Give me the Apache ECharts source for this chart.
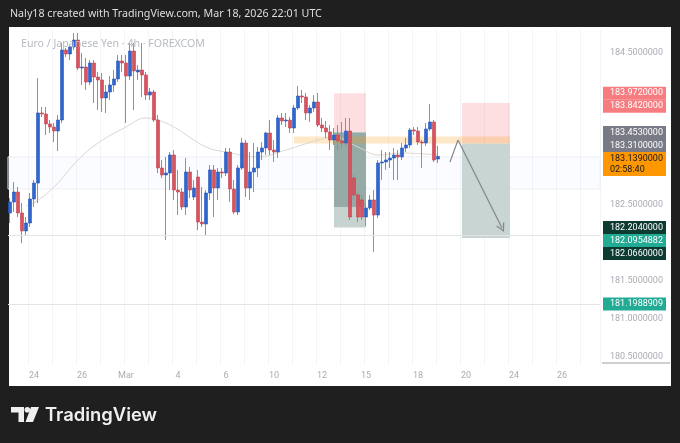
<!DOCTYPE html>
<html><head><meta charset="utf-8">
<script src="https://cdn.jsdelivr.net/npm/echarts@6/dist/echarts.min.js"></script>
<style>
html,body{margin:0;padding:0;background:#1f1f1f;}
#wrap{position:relative;width:680px;height:443px;background:#1f1f1f;overflow:hidden;}
#panel{position:absolute;left:9px;top:27px;width:662px;height:359px;background:#ffffff;}
#chart{position:absolute;left:0;top:0;width:680px;height:443px;}
</style></head><body>
<div id="wrap"><div id="panel"></div><div id="chart"></div></div>
<script>
// ---------- data ----------
const barCount = 148; // 108 candles + empty future slots
const tickIdx  = [6, 18, 29, 42, 54, 66, 78, 89, 102, 114, 126, 138];
const tickText = ['24', '26', 'Mar', '4', '6', '10', '12', '15', '18', '20', '24', '26'];

const openArr = [182.395,182.539,182.671,182.395,182.158,182.263,182.579,182.789,183.711,183.697,
183.566,183.526,183.474,183.618,184.539,184.487,184.579,184.671,184.303,184.316,
184.118,184.368,184.184,184.145,183.908,183.987,184.079,184.158,184.395,184.368,
184.197,184.526,184.250,184.276,184.211,183.947,183.987,183.618,182.987,182.895,
182.921,183.158,182.697,182.671,182.474,182.934,182.605,182.868,182.276,182.250,
182.658,182.961,182.724,182.934,182.921,183.197,182.711,182.408,182.987,183.316,
182.724,182.934,182.987,183.197,183.250,183.447,183.224,183.197,183.645,183.605,
183.618,183.513,183.776,183.934,183.921,183.711,183.776,183.855,183.553,183.513,
183.461,183.355,183.421,183.342,183.316,183.474,182.855,182.632,182.566,182.342,
182.461,182.566,182.368,183.053,183.066,183.092,183.118,183.158,183.132,183.250,
183.290,183.487,183.474,183.329,183.316,183.500,183.592,183.105];

const closeArr = [182.539,182.671,182.395,182.158,182.263,182.579,182.789,183.711,183.697,183.566,
183.526,183.474,183.618,184.539,184.487,184.579,184.671,184.303,184.316,184.118,
184.368,184.184,184.145,183.908,183.987,184.079,184.158,184.395,184.368,184.197,
184.526,184.263,184.276,184.211,183.947,183.987,183.618,182.987,182.895,182.921,
183.158,182.697,182.671,182.474,182.934,182.697,182.724,182.276,182.250,182.658,
182.961,182.724,182.934,182.921,183.197,182.711,182.408,182.987,183.316,182.724,
182.934,182.987,183.197,183.250,183.447,183.224,183.197,183.645,183.605,183.618,
183.513,183.776,183.934,183.921,183.711,183.776,183.855,183.553,183.513,183.461,
183.355,183.421,183.342,183.316,183.474,182.342,182.632,182.342,182.342,182.461,
182.566,182.368,183.053,183.066,183.092,183.118,183.158,183.132,183.250,183.290,
183.487,183.474,183.329,183.316,183.500,183.592,183.092,183.139];

const lowArr = [182.263,182.408,182.342,181.997,182.105,182.211,182.474,182.526,183.658,183.421,
183.447,183.329,183.211,183.579,184.447,184.408,184.539,184.276,184.079,184.013,
184.079,183.842,183.750,183.724,183.711,183.882,183.987,184.118,184.250,183.579,
184.145,183.750,184.145,183.921,183.882,183.882,183.592,182.921,182.855,182.039,
182.697,182.566,182.368,182.434,182.368,182.592,182.566,182.171,182.211,182.105,
182.566,182.342,182.566,182.855,182.882,182.539,182.382,182.368,182.961,182.605,
182.566,182.671,182.868,183.092,183.158,183.158,183.066,183.118,183.553,183.526,
183.447,183.447,183.750,183.842,183.618,183.592,183.724,183.526,183.461,183.382,
183.224,183.290,183.224,183.250,183.263,182.303,182.566,182.276,182.303,182.224,
182.434,181.882,182.329,182.829,182.961,182.987,182.829,182.829,183.092,183.197,
183.250,183.421,183.290,182.987,183.276,183.474,183.066,183.053];

const highArr = [182.592,182.803,182.737,182.526,182.342,182.658,182.829,184.171,183.789,183.789,
183.618,183.579,183.684,184.632,184.566,184.605,184.763,184.763,184.500,184.434,
184.408,184.408,184.250,184.237,184.079,184.197,184.276,184.474,184.474,184.474,
184.632,184.632,184.342,184.632,184.250,184.039,184.013,183.684,183.092,183.132,
183.197,183.224,182.961,182.724,183.118,183.000,182.829,182.961,182.737,182.697,
183.026,183.026,182.987,182.987,183.250,183.250,182.829,183.026,183.382,183.355,
183.197,183.316,183.263,183.329,183.461,183.618,183.355,183.684,183.711,183.711,
183.658,183.816,184.066,184.013,183.974,183.816,183.947,183.974,183.645,183.605,
183.553,183.513,183.553,183.592,183.645,183.645,182.895,182.658,182.632,182.526,
182.632,182.697,183.092,183.224,183.197,183.197,183.250,183.224,183.316,183.382,
183.513,183.526,183.526,183.355,183.579,183.829,183.618,183.276];

// moving average line, read at a few candles
const maIdx = [4, 6, 11, 17, 22, 29, 34, 37, 41, 49, 54, 62, 69, 77, 81, 87, 92, 98, 107];
const maVal = [182.487,182.526,182.737,183.092,183.316,183.526,183.645,183.618,183.526,183.263,
183.197,183.132,183.224,183.355,183.395,183.263,183.158,183.184,183.158];

// drawings
const levelPrices = [182.0954882, 181.1988909];
const rangeBand   = [183.132, 182.711];
const bandIdx     = [71, 125];
const bandPrices  = [183.400, 183.310];
const pos1Idx     = [81, 89];
const pos1Prices  = [183.972, 183.453, 182.474, 182.204]; // stop, entry, reached, target
const pos2Idx     = [113, 125];
const pos2Prices  = [183.842, 183.310, 182.066];           // stop, entry, target
const zigIdx      = [110, 112, 123];
const zigVal      = [183.066, 183.355, 182.197];

// price tags on the right scale
const tagPrices = [183.972, 183.842, 183.453, 183.310, 183.139, 182.204, 182.0954882, 182.066, 181.1988909];
const tagKinds  = ['stop', 'stop', 'entry', 'entry', 'last', 'target', 'level', 'target', 'level'];
const countdown = '02:58:40';

// ---------- chart ----------
const chart = echarts.init(document.getElementById('chart'), null, {renderer: 'canvas'});
const cats = Array.from({length: barCount}, (_, i) => 'k' + i);
const tickMap = {};
tickIdx.forEach((v, i) => { tickMap[v] = tickText[i]; });

const wickData = openArr.map((o, i) => [o, closeArr[i], lowArr[i], highArr[i]]);
const bodyData = openArr.map((o, i) => [o, closeArr[i], Math.min(o, closeArr[i]), Math.max(o, closeArr[i])]);
const maData = maIdx.map((x, i) => [cats[x], maVal[i]]);

const Y_MIN = 180.3947, Y_MAX = 184.8026;
const FONT = 'Roboto, "Noto Sans", sans-serif';
const chevron = 'path://M5,0 L10,9 L8.7,9.7 L5,2.8 L1.3,9.7 L0,9 Z';

const box = (i0, p0, i1, p1, color) => [
  {coord: [cats[i0], p0], itemStyle: {color: color}},
  {coord: [cats[i1], p1]}
];

const option = {
  animation: false,
  backgroundColor: 'transparent',
  title: {
    text: 'Euro / Japanese Yen · 4h · FOREXCOM',
    left: 16, top: 33,
    textStyle: {fontFamily: '"Noto Sans", sans-serif', fontSize: 10.6, fontWeight: 'normal', color: '#b7bac2'}
  },
  grid: {left: 8, right: 80, top: 30, bottom: 78, outerBoundsMode: 'none'},
  xAxis: {
    type: 'category', data: cats, boundaryGap: true,
    axisLine: {show: false}, axisTick: {show: false},
    axisLabel: {
      interval: (i) => tickMap[i] !== undefined,
      formatter: (v, i) => tickMap[i] || '',
      color: '#a9acb4', fontSize: 9, fontFamily: FONT, margin: 6
    },
    splitLine: {show: true, interval: (i) => (i - 5) % 6 === 0, lineStyle: {color: '#f3f4f7', width: 1}}
  },
  yAxis: {
    type: 'value', position: 'right', min: Y_MIN, max: Y_MAX, splitNumber: 9,
    axisLine: {show: false}, axisTick: {show: false}, splitLine: {show: false},
    axisLabel: {showMinLabel: false, showMaxLabel: false, margin: 10, color: '#a9acb4',
      fontSize: 9, fontFamily: FONT, formatter: (v) => v.toFixed(7)}
  },
  series: [
    {
      name: 'drawings', type: 'line', data: [], z: 1, silent: true,
      markArea: {
        silent: true, label: {show: false},
        data: [
          [{yAxis: rangeBand[0], itemStyle: {color: 'rgba(41,98,255,0.018)', borderColor: '#eceff4', borderWidth: 1}}, {yAxis: rangeBand[1]}],
          box(pos1Idx[0], pos1Prices[0], pos1Idx[1], pos1Prices[1], 'rgba(242,54,69,0.16)'),
          box(pos1Idx[0], pos1Prices[1], pos1Idx[1], pos1Prices[3], '#c6d3cf'),
          box(pos1Idx[0], pos1Prices[1], pos1Idx[1], pos1Prices[2], '#96aba5'),
          box(pos2Idx[0], pos2Prices[0], pos2Idx[1], pos2Prices[1], 'rgba(242,54,69,0.16)'),
          box(pos2Idx[0], pos2Prices[1], pos2Idx[1], pos2Prices[2], '#c9d5d2'),
          box(bandIdx[0], bandPrices[0], bandIdx[1], bandPrices[1], 'rgba(255,152,0,0.22)')
        ]
      },
      markLine: {
        silent: true, symbol: ['none', 'none'], label: {show: false},
        lineStyle: {type: 'solid', width: 1, color: '#e2e4e8'},
        data: [
          {yAxis: levelPrices[0]},
          {yAxis: levelPrices[1]},
          [{coord: [cats[zigIdx[0]], zigVal[0]], symbol: 'none', lineStyle: {color: '#86888d', width: 1.2}},
           {coord: [cats[zigIdx[1]], zigVal[1]], symbol: 'none'}],
          [{coord: [cats[zigIdx[1]], zigVal[1]], symbol: 'none', lineStyle: {color: '#86888d', width: 1.2}},
           {coord: [cats[zigIdx[2]], zigVal[2]], symbol: chevron, symbolSize: [9, 9]}]
        ]
      }
    },
    {
      name: 'MA', type: 'line', data: maData, smooth: 0.4, symbol: 'none', z: 2, silent: true,
      lineStyle: {color: '#dad6d0', width: 1}
    },
    {
      name: 'wicks', type: 'candlestick', data: wickData, barWidth: 1, z: 3, silent: true,
      itemStyle: {color: '#8e9197', color0: '#8e9197', borderColor: '#8e9197', borderColor0: '#8e9197', borderWidth: 1}
    },
    {
      name: 'bodies', type: 'candlestick', data: bodyData, barWidth: 3, z: 4, silent: true,
      itemStyle: {color: '#2f66d0', color0: '#d9535f', borderColor: '#2656b8', borderColor0: '#c0434f', borderWidth: 0.6}
    }
  ]
};
chart.setOption(option);

// ---------- price tags, header, logo ----------
const styleOf = {
  stop:   {bg: '#f77c80', fg: '#ffffff'},
  entry:  {bg: '#787b86', fg: '#ffffff'},
  last:   {bg: '#ff9800', fg: '#131722'},
  target: {bg: '#0d3b31', fg: '#ffffff'},
  level:  {bg: '#22ab94', fg: '#ffffff'}
};
const ROW = 13, ROW2 = 11;
let items = tagPrices.map((p, i) => {
  const lines = [p.toFixed(7)];
  if (tagKinds[i] === 'last') lines.push(countdown);
  return {y: chart.convertToPixel({yAxisIndex: 0}, p), lines: lines, kind: tagKinds[i]};
});
items.sort((a, b) => a.y - b.y);
let prevBottom = -1e9;
items.forEach(it => {
  it.h = ROW + (it.lines.length - 1) * ROW2;
  it.top = Math.max(it.y - ROW / 2, prevBottom);
  prevBottom = it.top + it.h;
});

const graphics = [];
items.forEach(it => {
  const st = styleOf[it.kind];
  graphics.push({type: 'rect', z: 100, silent: true, shape: {x: 603, y: it.top, width: 63, height: it.h}, style: {fill: st.bg}});
  it.lines.forEach((t, k) => {
    graphics.push({type: 'text', z: 101, silent: true, style: {text: t, x: 610, y: it.top + ROW / 2 + k * ROW2,
      fill: st.fg, font: '9px ' + FONT, align: 'left', verticalAlign: 'middle'}});
  });
});
// price-scale bottom edge
graphics.push({type: 'line', silent: true, shape: {x1: 602, y1: 363, x2: 670, y2: 363}, style: {stroke: '#9a9da5', lineWidth: 1}});
// header
graphics.push({type: 'text', silent: true, style: {text: 'Naly18 created with TradingView.com, Mar 18, 2026 22:01 UTC',
  x: 10, y: 14, fill: '#dedede', font: '10.7px "Noto Sans", sans-serif', verticalAlign: 'middle'}});
// logo
graphics.push({type: 'polygon', silent: true, shape: {points: [[11,407],[24,407],[24,422],[18.5,422],[18.5,412.5],[11,412.5]]}, style: {fill: '#f0f0f0'}});
graphics.push({type: 'circle', silent: true, shape: {cx: 27.3, cy: 409.8, r: 2.8}, style: {fill: '#f0f0f0'}});
graphics.push({type: 'polygon', silent: true, shape: {points: [[31,407],[39,407],[33,422],[25.5,422]]}, style: {fill: '#f0f0f0'}});
graphics.push({type: 'text', silent: true, style: {text: 'TradingView', x: 45, y: 415.5, fill: '#f0f0f0',
  font: '600 18.4px Inter, "Noto Sans", sans-serif', verticalAlign: 'middle'}});

// hide scale labels that sit under a tag
const covered = (v) => {
  const py = chart.convertToPixel({yAxisIndex: 0}, v);
  return items.some(it => py > it.top - 5 && py < it.top + it.h + 5);
};
chart.setOption({
  graphic: graphics,
  yAxis: {axisLabel: {formatter: (v) => covered(v) ? '' : v.toFixed(7)}}
});
</script>
</body></html>
